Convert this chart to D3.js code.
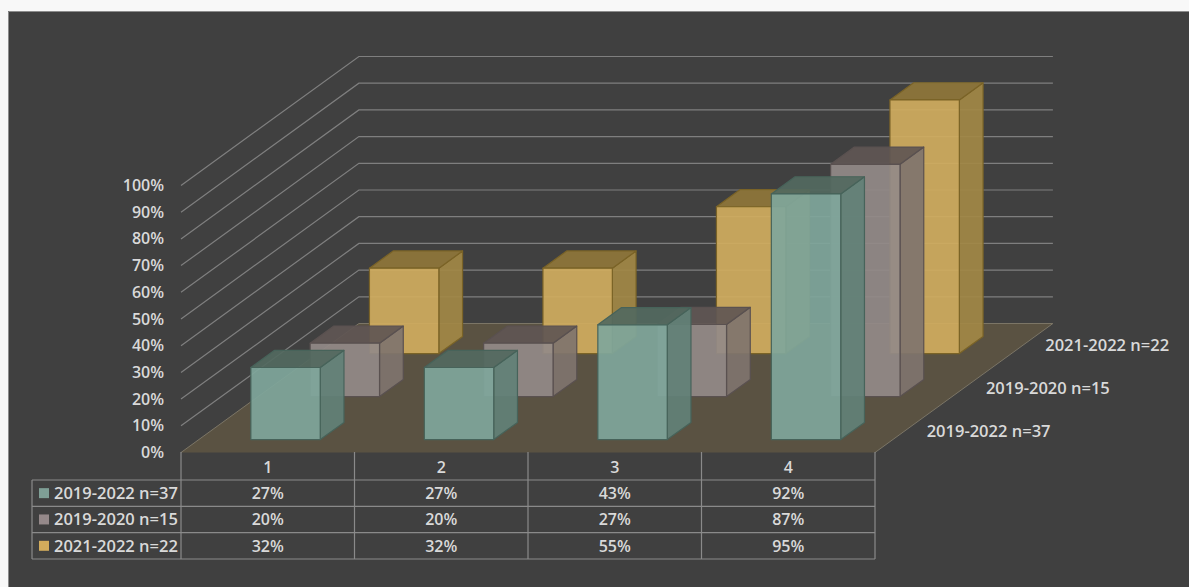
<!DOCTYPE html>
<html>
<head>
<meta charset="utf-8">
<style>
  html, body { margin: 0; padding: 0; background: #f8f8f8; }
  svg { display: block; }
  text { font-family: "Open Sans", "Noto Sans", sans-serif; font-weight: 600; fill: #d9d9d9; }
</style>
<script src="https://cdn.jsdelivr.net/npm/d3@7/dist/d3.min.js"></script>
</head>
<body>
<script>
// Category and series data
const categories = ["1", "2", "3", "4"];
const seriesNames = ["2019-2022 n=37", "2019-2020 n=15", "2021-2022 n=22"];
const values2019to2022 = [27, 27, 43, 92];
const values2019to2020 = [20, 20, 27, 87];
const values2021to2022 = [32, 32, 55, 95];
const percentTicks = [0, 10, 20, 30, 40, 50, 60, 70, 80, 90, 100];
const seriesValues = [values2019to2022, values2019to2020, values2021to2022];

// Face colours per series: front, side, top, edge
const seriesColors = ["#7f9f96", "#95898a", "#d3ac5c"];
const faceColors = [
  { front: "#7fa69b", side: "#628177", top: "#53695f", edge: "#47635a" },
  { front: "#938a88", side: "#7f746e", top: "#5f5654", edge: "#5a5150" },
  { front: "#d0ad5e", side: "#a28845", top: "#8f763a", edge: "#7a6327" }
];

const width = 1189, height = 587;
const svg = d3.select("body").append("svg").attr("width", width).attr("height", height);

// Panel with a soft lighter rim on its top and left edges
svg.append("rect").attr("x", 8).attr("y", 11).attr("width", width - 8).attr("height", height - 11).attr("fill", "#404040");
svg.append("polyline").attr("points", "8.5,587 8.5,11.5 1189,11.5")
  .attr("fill", "none").attr("stroke", "#8c8c8c").attr("stroke-width", 1);

// Oblique projection: x along categories, y up by percent, depth along series
const x = d3.scaleBand().domain(categories).range([181, 875]);
const y = d3.scaleLinear().domain([0, 100]).range([0, 267]);
const depth = d3.scaleBand().domain(seriesNames).range([0, 3]);
const depthDx = 59.3, depthDy = 43;

const project = (px, value, d) => [px + d * depthDx, 452.5 - y(value) - d * depthDy];
const polygon = pts => pts.map(p => p.join(",")).join(" ");

// Floor
const floorBack = depth.range()[1];
svg.append("polygon")
  .attr("points", polygon([project(181, 0, 0), project(875, 0, 0), project(875, 0, floorBack), project(181, 0, floorBack)]))
  .attr("fill", "#5a5242");
svg.append("polyline")
  .attr("points", polygon([project(181, 0, 0), project(181, 0, floorBack), project(875, 0, floorBack), project(875, 0, 0)]))
  .attr("fill", "none").attr("stroke", "#7b7566").attr("stroke-width", 1);

// Gridlines on the side and back walls
const grid = svg.append("g").attr("fill", "none").attr("stroke", "#7f7f7f").attr("stroke-width", 1.2);
percentTicks.filter(t => t > 0).forEach(t => {
  grid.append("polyline").attr("points", polygon([project(181, t, 0), project(181, t, floorBack), project(875, t, floorBack)]));
});

// Percent axis labels
svg.append("g").selectAll("text").data(percentTicks).join("text")
  .attr("x", 164).attr("y", t => project(181, t, 0)[1] + 5.5)
  .attr("text-anchor", "end").attr("font-size", 16).text(t => t + "%");

// Bars, drawn back to front
const barInner = 0.4;
const bars = svg.append("g");
[2, 1, 0].forEach(s => {
  const name = seriesNames[s], c = faceColors[s];
  const d0 = depth(name) + (depth.bandwidth() * (1 - barInner)) / 2;
  const d1 = d0 + depth.bandwidth() * barInner;
  categories.forEach((cat, i) => {
    const v = seriesValues[s][i];
    const xl = x(cat) + (x.bandwidth() * (1 - barInner)) / 2;
    const xr = xl + x.bandwidth() * barInner;
    const g = bars.append("g").attr("stroke", c.edge).attr("stroke-width", 1.2).attr("stroke-linejoin", "round").attr("fill-opacity", 0.92);
    g.append("polygon").attr("fill", c.side)
      .attr("points", polygon([project(xr, 0, d0), project(xr, 0, d1), project(xr, v, d1), project(xr, v, d0)]));
    g.append("polygon").attr("fill", c.top)
      .attr("points", polygon([project(xl, v, d0), project(xr, v, d0), project(xr, v, d1), project(xl, v, d1)]));
    g.append("polygon").attr("fill", c.front)
      .attr("points", polygon([project(xl, 0, d0), project(xr, 0, d0), project(xr, v, d0), project(xl, v, d0)]));
  });
});

// Series names along the depth edge
const depthLabels = svg.append("g");
seriesNames.forEach(name => {
  const p = project(875, 0, depth(name) + depth.bandwidth() / 2);
  depthLabels.append("text").attr("x", p[0] + 22).attr("y", p[1] + 6)
    .attr("font-size", 16.5).text(name);
});

// Data table below the floor
const rowY = [452, 480, 506.3, 532.6, 559];
const table = svg.append("g").attr("stroke", "#8a8a8a").attr("stroke-width", 1.2);
categories.forEach(cat => {
  table.append("line").attr("x1", x(cat)).attr("x2", x(cat)).attr("y1", 452).attr("y2", 559);
});
table.append("line").attr("x1", 875).attr("x2", 875).attr("y1", 452).attr("y2", 559);
table.append("line").attr("x1", 32).attr("x2", 32).attr("y1", rowY[1]).attr("y2", 559);
[1, 2, 3, 4].forEach(r => {
  table.append("line").attr("x1", 32).attr("x2", 875).attr("y1", rowY[r]).attr("y2", rowY[r]);
});

const rowMid = r => (rowY[r] + rowY[r + 1]) / 2 + 6;
const tableText = svg.append("g").attr("font-size", 16);
categories.forEach(cat => {
  const cx = x(cat) + x.bandwidth() / 2;
  tableText.append("text").attr("x", cx).attr("y", rowMid(0) + 1).attr("text-anchor", "middle").text(cat);
  seriesNames.forEach((name, s) => {
    tableText.append("text").attr("x", cx).attr("y", rowMid(s + 1)).attr("text-anchor", "middle")
      .text(seriesValues[s][categories.indexOf(cat)] + "%");
  });
});
seriesNames.forEach((name, s) => {
  tableText.append("rect").attr("x", 39).attr("y", rowMid(s + 1) - 11).attr("width", 10).attr("height", 10).attr("fill", seriesColors[s]);
  tableText.append("text").attr("x", 54).attr("y", rowMid(s + 1)).attr("font-size", 16.5).text(name);
});
</script>
</body>
</html>
